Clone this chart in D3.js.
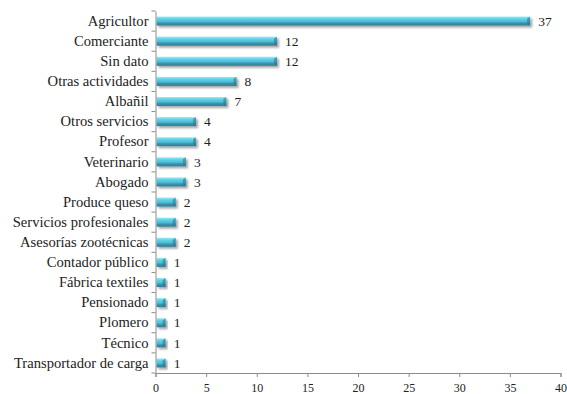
<!DOCTYPE html>
<html>
<head>
<meta charset="utf-8">
<script src="https://cdn.jsdelivr.net/npm/d3@7"></script>
<style>
  html, body { margin: 0; padding: 0; background: #ffffff; }
  svg { display: block; }
</style>
</head>
<body>
<svg id="chart" width="567" height="394"></svg>
<script>
// Occupations and counts
const categories = [
  "Agricultor", "Comerciante", "Sin dato", "Otras actividades", "Albañil",
  "Otros servicios", "Profesor", "Veterinario", "Abogado", "Produce queso",
  "Servicios profesionales", "Asesorías zootécnicas", "Contador público",
  "Fábrica textiles", "Pensionado", "Plomero", "Técnico", "Transportador de carga"
];
const counts = [37, 12, 12, 8, 7, 4, 4, 3, 3, 2, 2, 2, 1, 1, 1, 1, 1, 1];
const xTicks = [0, 5, 10, 15, 20, 25, 30, 35, 40];

const FONT = '"Liberation Serif", "Times New Roman", serif';
const svg = d3.select("#chart");
const plotLeft = 155.5, plotRight = 560.5, plotTop = 11, plotBottom = 373;

const x = d3.scaleLinear().domain([0, 40]).range([plotLeft, plotRight]);
const y = d3.scaleBand().domain(categories).range([plotTop, plotBottom]).paddingInner(0.55).paddingOuter(0.275);

// Gradient and drop shadow for the bevelled bars
const defs = svg.append("defs");
const g = defs.append("linearGradient").attr("id", "barFill").attr("x1", 0).attr("y1", 0).attr("x2", 0).attr("y2", 1);
g.append("stop").attr("offset", "0%").attr("stop-color", "#9AEBF8");
g.append("stop").attr("offset", "25%").attr("stop-color", "#5ED3EA");
g.append("stop").attr("offset", "55%").attr("stop-color", "#4DBCD6");
g.append("stop").attr("offset", "72%").attr("stop-color", "#3D93AD");
g.append("stop").attr("offset", "100%").attr("stop-color", "#317C95");
const f = defs.append("filter").attr("id", "shadow").attr("x", "-10%").attr("y", "-50%").attr("width", "130%").attr("height", "250%");
f.append("feGaussianBlur").attr("in", "SourceAlpha").attr("stdDeviation", 1.2).attr("result", "b");
f.append("feOffset").attr("in", "b").attr("dx", 1.5).attr("dy", 2).attr("result", "o");
f.append("feComponentTransfer").attr("in", "o").attr("result", "s")
  .append("feFuncA").attr("type", "linear").attr("slope", 0.35);
const m = f.append("feMerge");
m.append("feMergeNode").attr("in", "s");
m.append("feMergeNode").attr("in", "SourceGraphic");

// Bars
const bars = svg.append("g").selectAll("g").data(categories).join("g").attr("filter", "url(#shadow)");
bars.append("rect")
  .attr("x", x(0) + 1)
  .attr("y", d => y(d))
  .attr("width", (d, i) => x(counts[i]) - x(0) - 1)
  .attr("height", y.bandwidth())
  .attr("fill", "url(#barFill)");
// bevelled right end
bars.append("path")
  .attr("d", (d, i) => {
    const xe = x(counts[i]), y0 = y(d), h = y.bandwidth();
    return `M${xe - 3},${y0 + 2}L${xe},${y0}L${xe},${y0 + h}L${xe - 3},${y0 + h - 2}Z`;
  })
  .attr("fill", "#2E6F86").attr("opacity", 0.55);

// Value labels
svg.append("g").selectAll("text").data(categories).join("text")
  .attr("x", (d, i) => x(counts[i]) + 8)
  .attr("y", d => y(d) + y.bandwidth() / 2)
  .attr("dy", "0.35em")
  .style("font-family", FONT)
  .style("font-size", "13.5px")
  .style("fill", "#222")
  .text((d, i) => counts[i]);

// Y axis
const yAxis = d3.axisLeft(y).tickSize(0).tickPadding(7);
const ya = svg.append("g").attr("transform", `translate(${plotLeft},0)`).call(yAxis);
ya.select(".domain").attr("stroke", "#8c8c8c");
ya.selectAll("text").style("font-family", FONT).style("font-size", "14.6px").style("fill", "#222");
// ticks between categories
const step = y.step();
const bounds = d3.range(categories.length + 1).map(i => plotTop + i * step);
svg.append("g").selectAll("line").data(bounds).join("line")
  .attr("x1", plotLeft - 4).attr("x2", plotLeft)
  .attr("y1", d => d).attr("y2", d => d)
  .attr("stroke", "#8c8c8c");

// X axis
const xAxis = d3.axisBottom(x).tickValues(xTicks).tickSize(4).tickPadding(6);
const xa = svg.append("g").attr("transform", `translate(0,${plotBottom})`).call(xAxis);
xa.select(".domain").attr("stroke", "#8c8c8c");
xa.selectAll(".tick line").attr("stroke", "#8c8c8c");
xa.selectAll("text").style("font-family", FONT).style("font-size", "12px").style("fill", "#222");
</script>
</body>
</html>
